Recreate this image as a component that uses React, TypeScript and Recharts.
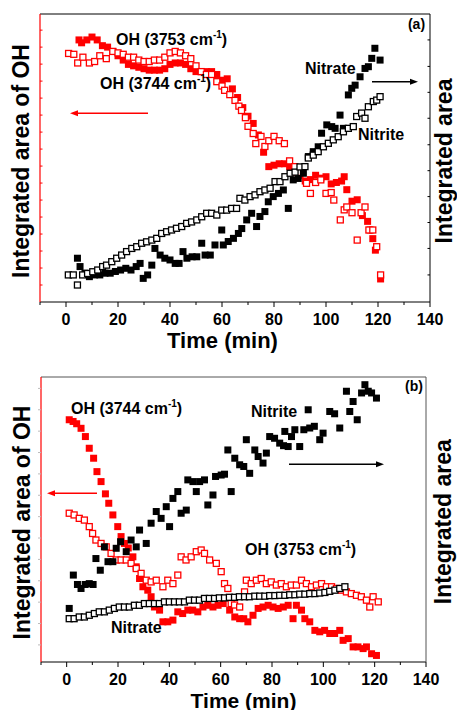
import React from 'react';
import { ScatterChart, Scatter, XAxis, YAxis } from 'recharts';

const FONT = '"Liberation Sans", Arial, Helvetica, sans-serif';
const RED = '#ff0000';

// shared time axis
const timeTicks = [-10, 0, 10, 20, 30, 40, 50, 60, 70, 80, 90, 100, 110, 120, 130, 140];
const timeLabels = [0, 20, 40, 60, 80, 100, 120, 140];

// ---------- Panel (a) ----------
const aOH3753Time = [5, 6, 8, 10, 12, 14, 16, 18, 20, 22, 24, 26, 28, 30, 32, 34, 36, 38, 40, 42, 44, 46, 48, 50, 52, 54, 56, 58, 60, 62, 64, 66, 68, 70, 72, 74, 76, 78, 80, 82, 84, 86, 88, 90, 92, 94, 96, 98, 100, 102, 104, 106, 107, 108, 110, 112, 114, 116, 117, 118, 119, 121];
const aOH3753 = [91, 90, 91, 92, 91, 89, 88.5, 87, 85.5, 84, 82.5, 82, 81.5, 81, 80.5, 80.5, 80.5, 81, 82.5, 83, 83, 82.5, 81, 80, 80, 80, 80, 79, 77, 77.5, 74, 71, 67.5, 64.5, 62, 58, 52, 47, 47.5, 48, 48, 47, 45, 44, 42, 42.5, 44, 43, 43.5, 41, 41.5, 42, 43.5, 39, 35, 35.5, 30, 28, 25, 22, 18, 8];

const aOH3744Time = [1, 3, 4.5, 6.5, 9, 11, 13, 15.5, 18, 20, 22, 24, 26, 28, 30, 32, 34, 36, 38, 40, 42, 44, 46, 48, 50, 52, 54, 56, 58, 60, 61, 63, 65, 66.5, 67.5, 69, 70, 72, 73, 75, 76.5, 78, 80, 82, 84, 86, 88, 90, 92.5, 94, 96, 98, 100, 102, 103, 105.5, 107, 108, 110, 112, 113.5, 115, 116.5, 118, 119.5, 121];
const aOH3744 = [86.3, 86, 83, 85, 83, 83.5, 85.5, 84.5, 87, 86.5, 86, 85, 85, 84, 83.5, 83.5, 84, 84, 85, 86.5, 87, 86.5, 85.5, 84.5, 82, 80, 79, 79, 76.5, 75, 73.5, 72, 70, 68, 66.5, 64, 61, 58.5, 55, 57.5, 54, 56, 57.5, 56, 55, 49, 47, 45, 41.2, 37.7, 41.5, 42.4, 37.7, 38, 35.4, 28.5, 32, 33, 31, 21.5, 31, 33, 25, 25, 19.2, 9.4];

const aNitrateTime = [4.4, 5.4, 7.3, 9, 11, 13, 15, 17, 19, 21, 23, 25, 27, 28.5, 29.7, 31.4, 33, 34.2, 36.2, 38, 40, 42, 43.5, 45, 46.5, 48.5, 50.3, 52.2, 53.5, 55.5, 57.3, 59.9, 60.5, 62.4, 64.4, 66.3, 67.6, 69.5, 71.4, 73.3, 74.6, 76.5, 77.8, 79.7, 81.7, 83.6, 85.5, 87.4, 89.3, 91.3, 93.2, 95.1, 97, 98.3, 100.3, 102.2, 103.5, 105.4, 106.7, 108.6, 109.9, 111.2, 113.1, 115, 116.3, 117.6, 118.8, 120.8];
const aNitrate = [15.2, 12.3, 10, 8.8, 9.4, 9.4, 10, 10, 10.6, 11.1, 11.7, 11.1, 12.3, 13.4, 8.2, 9.4, 12.8, 18.6, 16.3, 15.2, 14.6, 13.4, 13.4, 17.5, 15.2, 15.7, 15.7, 20.4, 16.3, 16.3, 19.8, 25, 19.8, 21, 22.1, 23.8, 25.5, 28.5, 30.8, 26.2, 29.7, 31.4, 34.8, 36.6, 37.7, 38.9, 32.5, 42.4, 42.9, 44.7, 50.5, 52.2, 53.9, 58.6, 61.5, 60.9, 60.3, 64.9, 60.3, 71.9, 74.2, 75.3, 78.2, 81.1, 81.7, 84.6, 88.1, 84];

const aNitriteTime = [0.9, 2.8, 4.4, 6.4, 8.3, 10.3, 12.2, 14.1, 15.6, 17.6, 19.5, 21.4, 23.3, 25.3, 27.2, 29.1, 31, 33, 34.9, 36.8, 38.7, 40.6, 42.5, 44.5, 46.4, 48.3, 50.3, 52.2, 54.1, 56, 58, 59.9, 61.8, 63.7, 65.6, 66.9, 68.8, 70.8, 72.7, 74.6, 76.5, 78.5, 80.4, 82.3, 84.2, 86.2, 88.1, 90, 91.9, 93.2, 95.1, 97, 99, 100.9, 102.8, 104.7, 106.7, 108.6, 110.5, 111.8, 113.7, 115, 116.3, 118.2, 119.5, 120.8];
const aNitrite = [9.4, 9.4, 5.9, 9.4, 9.9, 10.5, 11.1, 12.3, 12.8, 14, 15.2, 16.3, 17.5, 18.6, 19.2, 20.4, 20.9, 21.5, 22.1, 23.8, 24.4, 25, 25.6, 26.2, 27.3, 27.8, 28.5, 29.6, 30.8, 30.8, 30.2, 31.9, 31.9, 32.5, 32.5, 36, 35.4, 36.6, 37.2, 38.3, 38.9, 39.5, 41.8, 41.8, 43.5, 44.7, 45.1, 46.9, 47, 50, 51, 52.2, 53.9, 55.1, 56.3, 57.4, 59.1, 60.3, 60.9, 64.4, 65.6, 63.8, 67.8, 69.6, 70.1, 71.3];

const aLeftTicks = [5.9, 11.8, 17.7, 23.6, 29.5, 35.4, 41.3, 47.2, 53.1, 59, 64.9, 70.8, 76.7, 82.6, 88.5, 94.4];
const aRightTicks = [9.4, 18.6, 27.6, 36.6, 45.6, 54.6, 63.8, 72.8, 81.8, 91];

// ---------- Panel (b) ----------
const bOH3744Time = [1, 2.5, 3.9, 5.6, 7.3, 8.8, 10.5, 11.8, 13.4, 15.1, 16.4, 18, 19.9, 21.2, 22.5, 24, 25.8, 27.1, 28.4, 29.7, 31.6, 32.9, 34.2, 36.2, 37.5, 39.4, 41.4, 43.3, 45.2, 47.2, 49.1, 51.1, 53.1, 55, 57, 59, 61, 63.5, 65.5, 67.4, 69, 70.6, 72.6, 74.6, 76.5, 78.5, 80.4, 82.4, 84.4, 86.3, 88.2, 89.5, 91.5, 92.8, 94.7, 96.7, 98.6, 100.5, 102.5, 104.4, 106.4, 107.7, 109.7, 111.6, 113.5, 115.5, 116.8, 118.8, 120.7];
const bOH3744 = [85, 84.4, 83.6, 82, 79.1, 75, 71.5, 66.8, 63.3, 59, 55.7, 51.6, 47.5, 44, 41.6, 40, 36.9, 33.4, 29.3, 26.4, 25.2, 22.9, 19.3, 18.2, 14.1, 14.1, 14.7, 17.6, 17, 18.2, 18.2, 17.6, 19.3, 19.9, 19.3, 19.9, 20.5, 18.2, 15.8, 15.2, 15.2, 14.1, 16.4, 18.8, 19.3, 19.9, 19.3, 18.8, 19.3, 19.9, 15.2, 19.9, 18.2, 15.2, 14.1, 11.1, 10.6, 11.1, 10, 10, 11.1, 7.6, 8.2, 5.3, 5.3, 4.7, 5.3, 2.9, 2.3];

const bOH3753Time = [1, 2.9, 4.9, 6.9, 8.8, 10.1, 11.4, 13.4, 15.4, 17.3, 19.3, 21.2, 23.2, 25.1, 27.1, 29, 31, 32.9, 34.9, 37.5, 39.4, 41.4, 43.3, 44.6, 46.5, 48.5, 50.5, 52.4, 53.7, 55.7, 58.3, 60.2, 61.5, 62.8, 64.1, 65.4, 67.4, 69.3, 70, 71.9, 73.9, 75.8, 77.8, 79.7, 81.7, 83.6, 85.6, 87.5, 89.5, 91.5, 93.4, 95.4, 97.3, 99.3, 101.2, 103.2, 105.1, 107.1, 109, 110.9, 112.9, 114.8, 116.8, 118.1, 119.4, 121.4];
const bOH3753 = [52.2, 51.6, 50.4, 49.8, 47.5, 45.1, 42.8, 41.6, 40.4, 38.1, 35.8, 35.8, 35.8, 34.6, 32.8, 31.1, 28.7, 28.1, 28.7, 26.4, 28.7, 27.5, 30.5, 36.9, 35.8, 36.9, 38.7, 39.3, 38.1, 35.8, 34.6, 31.7, 27.5, 25.8, 20.5, 20, 19.3, 24.6, 28.7, 27.5, 28.7, 29.3, 27.5, 28.1, 27, 27.5, 26.4, 27, 27, 28.7, 27.5, 26.4, 27, 27.5, 26.4, 26.4, 25.8, 25.2, 24.6, 24, 23.4, 22.9, 21.7, 19.3, 22.9, 21.1];

const bNitriteTime = [1, 2.6, 4.2, 5.6, 7.2, 8.8, 10.3, 11.4, 13.1, 14.7, 16.1, 18, 19.3, 21, 23.2, 25.1, 27.1, 28.4, 31, 32.9, 34.9, 36.8, 38.8, 40.1, 41.4, 43.3, 44.6, 46.6, 47.2, 49.2, 50.5, 51.8, 53.7, 55, 57, 58, 60.2, 61.5, 62.8, 64.1, 65.5, 67.4, 69, 70, 71.3, 73.3, 74.6, 76.5, 77.8, 79.1, 81, 83, 84.5, 85, 86.3, 87.6, 88.9, 90.8, 92.4, 94.1, 94.7, 96.5, 98.6, 99.9, 102.5, 104.4, 106.4, 109, 110.3, 111.6, 113.2, 114.9, 116.2, 117.5, 118.8, 120.7];
const bNitrite = [18.8, 30.5, 27.2, 25.8, 27.2, 27.5, 27.2, 36.3, 32.2, 40.4, 35.2, 35.2, 39.9, 42.2, 38.7, 42.8, 40.4, 46.3, 41.6, 48.7, 52.8, 50.4, 54.5, 47.5, 57.4, 59.8, 52.2, 53.3, 63.9, 63.3, 59.8, 63.3, 63.9, 55.1, 58.6, 65.1, 65.6, 65.9, 74.4, 59.8, 71.5, 69.2, 68.6, 78, 66.2, 74.4, 72.1, 69.8, 73.3, 79.1, 78.5, 76.8, 75.9, 80.9, 75.6, 79.1, 81.5, 75.6, 81.5, 88.5, 82.1, 82.7, 78, 80.3, 87.9, 87.1, 82.1, 95, 87.9, 91.4, 85, 94.4, 97.3, 95, 94.4, 92.6];

const bNitrateTime = [1, 2.9, 4.9, 6.9, 8.8, 10.8, 12.7, 14.7, 16.6, 18.6, 20.5, 22.5, 24.4, 26.4, 28.3, 30.3, 32.2, 34.2, 36.1, 38.1, 40, 42, 43.9, 45.9, 47.8, 49.8, 51.7, 53.7, 55.6, 57.6, 59.5, 61.5, 63.4, 65.4, 67.3, 69.3, 71.2, 73.3, 75.2, 77.2, 79.1, 81.1, 83, 85, 86.9, 88.9, 90.8, 92.8, 94.7, 96.7, 98.6, 100.6, 102.5, 104.5, 106.4, 108.4];
const bNitrate = [15.2, 15.2, 15.8, 15.8, 16.4, 17, 17.6, 17.6, 18.2, 18.8, 19.3, 19.3, 19.3, 19.9, 19.9, 20.5, 20.5, 20.5, 20.5, 21.1, 21.1, 21.1, 21.1, 21.1, 21.7, 21.7, 21.7, 22.3, 22.3, 22.3, 22.5, 22.5, 22.7, 22.7, 22.9, 22.9, 22.9, 23.1, 23.1, 23.1, 23.3, 23.3, 23.4, 23.4, 23.6, 23.6, 23.8, 23.8, 24, 24, 24.2, 24.4, 24.8, 25.2, 25.8, 26.4];

const bLeftTicks = [6, 13.5, 21, 28.5, 36, 43.5, 51, 58.5, 66, 73.5, 81, 88.5, 96];

const zip = (t: number[], v: number[]) => t.map((x, i) => ({ x, y: v[i] }));

const filled = (color: string) => (p: any) =>
  p.cx == null ? <g /> : <rect x={p.cx - 3.5} y={p.cy - 3.5} width={7} height={7} fill={color} />;
const open = (color: string) => (p: any) =>
  p.cx == null ? <g /> : (
    <rect x={p.cx - 3} y={p.cy - 3} width={6} height={6} fill="#fff" stroke={color} strokeWidth={1.3} />
  );

const XTick = (p: any) => {
  const v = p.payload.value;
  const major = timeLabels.includes(v);
  return (
    <g>
      <line x1={p.x} y1={p.y} x2={p.x} y2={p.y + (major ? 5 : 3)} stroke="#000" strokeWidth={1} />
      {major && (
        <text x={p.x} y={p.y + 22.5} textAnchor="middle" fontFamily={FONT} fontWeight="bold" fontSize={16} fill="#000">
          {v}
        </text>
      )}
    </g>
  );
};

const yTick = (dir: number, color: string, len: number) => (p: any) => (
  <line x1={p.x} y1={p.y} x2={p.x + dir * len} y2={p.y} stroke={color} strokeWidth={1} />
);

const Sup = ({ x, y, text }: { x: number; y: number; text: string }) => (
  <text x={x} y={y} fontFamily={FONT} fontWeight="bold" fontSize={16} fill="#000">
    {text}
    <tspan dy={-7} fontSize={10}>-1</tspan>
    <tspan dy={7}>)</tspan>
  </text>
);

const Arrow = ({ x1, x2, y, color }: { x1: number; x2: number; y: number; color: string }) => {
  const d = x2 > x1 ? 1 : -1;
  return (
    <g>
      <line x1={x1} y1={y} x2={x2 - d * 6} y2={y} stroke={color} strokeWidth={1.4} />
      <polygon points={`${x2},${y} ${x2 - d * 8},${y - 3} ${x2 - d * 8},${y + 3}`} fill={color} />
    </g>
  );
};

const RotLabel = ({ x, y, text }: { x: number; y: number; text: string }) => (
  <text
    x={x}
    y={y}
    transform={`rotate(-90 ${x} ${y})`}
    textAnchor="middle"
    fontFamily={FONT}
    fontWeight="bold"
    fontSize={23}
    fill="#000"
  >
    {text}
  </text>
);

const BoldText = ({ x, y, text, size = 16, anchor = 'start' }: any) => (
  <text x={x} y={y} textAnchor={anchor} fontFamily={FONT} fontWeight="bold" fontSize={size} fill="#000">
    {text}
  </text>
);

export default function App() {
  return (
    <div style={{ position: 'absolute', left: 0, top: 0, width: 457, height: 710, background: '#fff' }}>
      <div style={{ position: 'absolute', left: 0, top: 0 }}>
        <ScatterChart width={457} height={355} margin={{ top: 13, right: 26, bottom: 23, left: 39 }}>
          <XAxis
            xAxisId="b"
            type="number"
            dataKey="x"
            domain={[-10, 140]}
            ticks={timeTicks}
            interval={0}
            height={30}
            tickSize={0}
            tickMargin={0}
            tickLine={false}
            axisLine={{ stroke: '#000', strokeWidth: 1 }}
            tick={(p: any) => <XTick {...p} />}
          />
          <XAxis xAxisId="t" orientation="top" type="number" domain={[-10, 140]} height={1} tick={false} tickLine={false} axisLine={{ stroke: '#000', strokeWidth: 1 }} />
          <YAxis
            yAxisId="l"
            type="number"
            dataKey="y"
            domain={[0, 100]}
            ticks={aLeftTicks}
            interval={0}
            width={1}
            tickSize={0}
            tickMargin={0}
            tickLine={false}
            axisLine={{ stroke: RED, strokeWidth: 1.2 }}
            tick={yTick(1, RED, 2.5)}
          />
          <YAxis
            yAxisId="r"
            orientation="right"
            type="number"
            dataKey="y"
            domain={[0, 100]}
            ticks={aRightTicks}
            interval={0}
            width={1}
            tickSize={0}
            tickMargin={0}
            tickLine={false}
            axisLine={{ stroke: '#000', strokeWidth: 1 }}
            tick={yTick(-1, '#000', 2.5)}
          />
          <Scatter name="OH 3753" data={zip(aOH3753Time, aOH3753)} xAxisId="b" yAxisId="l" shape={filled(RED)} isAnimationActive={false} />
          <Scatter name="OH 3744" data={zip(aOH3744Time, aOH3744)} xAxisId="b" yAxisId="l" shape={open(RED)} isAnimationActive={false} />
          <Scatter name="Nitrate" data={zip(aNitrateTime, aNitrate)} xAxisId="b" yAxisId="r" shape={filled('#000')} isAnimationActive={false} />
          <Scatter name="Nitrite" data={zip(aNitriteTime, aNitrite)} xAxisId="b" yAxisId="r" shape={open('#000')} isAnimationActive={false} />
        </ScatterChart>
      </div>
      <div style={{ position: 'absolute', left: 0, top: 355 }}>
        <ScatterChart width={457} height={355} margin={{ top: 21, right: 30, bottom: 18, left: 40 }}>
          <XAxis
            xAxisId="b"
            type="number"
            dataKey="x"
            domain={[-10, 140]}
            ticks={timeTicks}
            interval={0}
            height={30}
            tickSize={0}
            tickMargin={0}
            tickLine={false}
            axisLine={{ stroke: '#000', strokeWidth: 1 }}
            tick={(p: any) => <XTick {...p} />}
          />
          <XAxis xAxisId="t" orientation="top" type="number" domain={[-10, 140]} height={1} tick={false} tickLine={false} axisLine={{ stroke: '#555', strokeWidth: 1 }} />
          <YAxis
            yAxisId="l"
            type="number"
            dataKey="y"
            domain={[0, 100]}
            ticks={bLeftTicks}
            interval={0}
            width={1}
            tickSize={0}
            tickMargin={0}
            tickLine={false}
            axisLine={{ stroke: RED, strokeWidth: 1.2 }}
            tick={yTick(-1, '#bbb', 3)}
          />
          <YAxis
            yAxisId="r"
            orientation="right"
            type="number"
            dataKey="y"
            domain={[0, 100]}
            width={1}
            tick={false}
            tickLine={false}
            axisLine={{ stroke: '#555', strokeWidth: 1 }}
          />
          <Scatter name="OH 3744" data={zip(bOH3744Time, bOH3744)} xAxisId="b" yAxisId="l" shape={filled(RED)} isAnimationActive={false} />
          <Scatter name="OH 3753" data={zip(bOH3753Time, bOH3753)} xAxisId="b" yAxisId="l" shape={open(RED)} isAnimationActive={false} />
          <Scatter name="Nitrite" data={zip(bNitriteTime, bNitrite)} xAxisId="b" yAxisId="r" shape={filled('#000')} isAnimationActive={false} />
          <Scatter name="Nitrate" data={zip(bNitrateTime, bNitrate)} xAxisId="b" yAxisId="r" shape={open('#000')} isAnimationActive={false} />
        </ScatterChart>
      </div>
      <svg width={457} height={710} style={{ position: 'absolute', left: 0, top: 0, pointerEvents: 'none' }}>
        {/* panel (a) */}
        <BoldText x={416.5} y={28.5} text="(a)" size={14} anchor="middle" />
        <Sup x={116} y={45} text="OH (3753 cm" />
        <Sup x={100} y={89} text="OH (3744 cm" />
        <BoldText x={305} y={74} text="Nitrate" />
        <BoldText x={358} y={140} text="Nitrite" />
        <Arrow x1={148} x2={70} y={113.3} color={RED} />
        <Arrow x1={372} x2={418} y={81.7} color="#000" />
        <BoldText x={222.5} y={347.5} text="Time (min)" size={22} anchor="middle" />
        <RotLabel x={28.5} y={161} text="Integrated area of OH" />
        <RotLabel x={452} y={161} text="Integrated area" />
        {/* panel (b) */}
        <BoldText x={414} y={391} text="(b)" size={14} anchor="middle" />
        <Sup x={71} y={414} text="OH (3744 cm" />
        <BoldText x={251} y={416.7} text="Nitrite" />
        <Sup x={245} y={555} text="OH (3753 cm" />
        <BoldText x={111} y={633} text="Nitrate" />
        <Arrow x1={97} x2={47} y={493.3} color={RED} />
        <Arrow x1={289} x2={384} y={464.3} color="#000" />
        <BoldText x={243.5} y={707.5} text="Time (min)" size={21} anchor="middle" />
        <RotLabel x={29.5} y={522.5} text="Integrated area of OH" />
        <RotLabel x={451} y={521.7} text="Integrated area" />
      </svg>
    </div>
  );
}
